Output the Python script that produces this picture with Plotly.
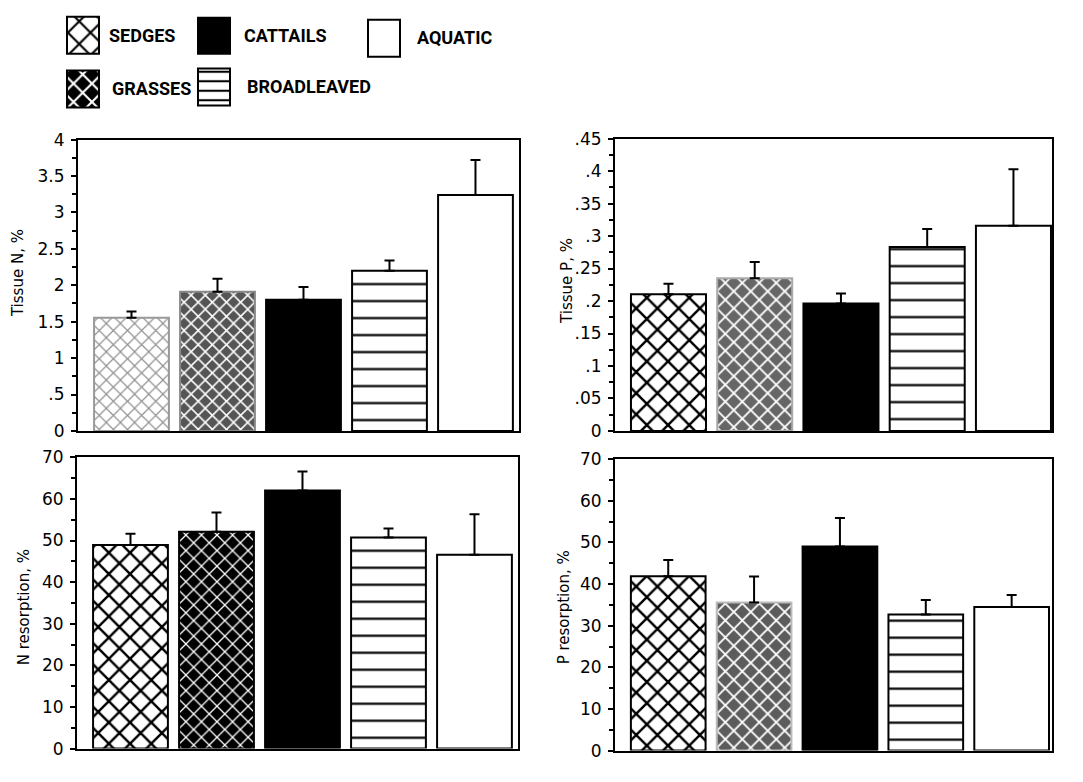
import plotly.graph_objects as go

# ---------------- data ----------------
CATEGORIES = ["SEDGES", "GRASSES", "CATTAILS", "BROADLEAVED", "AQUATIC"]

TISSUE_N = [1.555, 1.91, 1.80, 2.20, 3.24]
TISSUE_N_SE = [0.085, 0.18, 0.175, 0.14, 0.48]

TISSUE_P = [0.2105, 0.235, 0.196, 0.283, 0.316]
TISSUE_P_SE = [0.016, 0.025, 0.0155, 0.028, 0.087]

N_RESORPTION = [48.9, 52.1, 62.0, 50.7, 46.6]
N_RESORPTION_SE = [2.7, 4.6, 4.6, 2.2, 9.7]

P_RESORPTION = [41.9, 35.6, 49.0, 32.7, 34.5]
P_RESORPTION_SE = [3.9, 6.2, 6.9, 3.5, 2.9]

N_TICKVALS = [0, 0.5, 1, 1.5, 2, 2.5, 3, 3.5, 4]
N_TICKTEXT = ["0", ".5", "1", "1.5", "2", "2.5", "3", "3.5", "4"]
P_TICKVALS = [0, 0.05, 0.1, 0.15, 0.2, 0.25, 0.3, 0.35, 0.4, 0.45]
P_TICKTEXT = ["0", ".05", ".1", ".15", ".2", ".25", ".3", ".35", ".4", ".45"]
R_TICKVALS = [0, 10, 20, 30, 40, 50, 60, 70]
R_TICKTEXT = ["0", "10", "20", "30", "40", "50", "60", "70"]

TITLES = ["Tissue N, %", "Tissue P, %", "N resorption, %", "P resorption, %"]

# ---------------- layout helpers ----------------
W, H = 1083, 782
FONT = "DejaVu Sans, Liberation Sans, Arial"
LFONT = "Roboto, Liberation Sans, DejaVu Sans"


def fx(p):
    return p / W


def fy(p):
    return 1 - p / H


def pat(shape, bg, fg, size, sol):
    return dict(shape=shape, bgcolor=bg, fgcolor=fg, fgopacity=1, size=size,
                solidity=sol, fillmode="replace")


def bar_styles(grass_bg, grass_line, sedge_fg, sedge_line, sedge_size, grass_size,
               sedge_sol, grass_sol):
    """Marker style per category for one panel."""
    return [
        dict(color="white", line=dict(color=sedge_line, width=2),
             pattern=pat("x", "white", sedge_fg, sedge_size, sedge_sol)),
        dict(color=grass_bg, line=dict(color=grass_line, width=2),
             pattern=pat("x", grass_bg, "white", grass_size, grass_sol)),
        dict(color="black", line=dict(color="black", width=2)),
        dict(color="white", line=dict(color="black", width=2),
             pattern=pat("-", "white", "black", 17, 0.13)),
        dict(color="white", line=dict(color="black", width=2)),
    ]


panels = [
    dict(vals=TISSUE_N, se=TISSUE_N_SE, tv=N_TICKVALS, tt=N_TICKTEXT, rng=[0, 4],
         minor=0.25, dom=(78, 519, 133, 432), xr=[-0.622, 4.506],
         mk=bar_styles("#555555", "#888", "#909090", "#999", 10, 10, 0.22, 0.28),
         title_xy=(18, 270)),
    dict(vals=TISSUE_P, se=TISSUE_P_SE, tv=P_TICKVALS, tt=P_TICKTEXT, rng=[0, 0.45],
         minor=0.025, dom=(615, 1052, 132, 432), xr=[-0.62, 4.447],
         mk=bar_styles("#666666", "#aaa", "black", "black", 15, 12, 0.3, 0.28),
         title_xy=(567, 278)),
    dict(vals=N_RESORPTION, se=N_RESORPTION_SE, tv=R_TICKVALS, tt=R_TICKTEXT, rng=[0, 70],
         minor=5, dom=(77, 518, 459, 758), xr=[-0.622, 4.506],
         mk=bar_styles("black", "black", "black", "black", 15, 11, 0.3, 0.22),
         title_xy=(24, 613)),
    dict(vals=P_RESORPTION, se=P_RESORPTION_SE, tv=R_TICKVALS, tt=R_TICKTEXT, rng=[0, 70],
         minor=5, dom=(615, 1052, 461, 760), xr=[-0.62, 4.47],
         mk=bar_styles("#5c5c5c", "#bbb", "black", "black", 15, 12, 0.3, 0.28),
         title_xy=(564, 613)),
]

fig = go.Figure()
layout = dict(
    width=W, height=H, margin=dict(l=0, r=0, t=0, b=0),
    paper_bgcolor="white", plot_bgcolor="white", showlegend=False,
    barmode="overlay", font=dict(family=FONT, color="black"),
)
annotations = []

for i, p in enumerate(panels, start=1):
    xa = "x" if i == 1 else f"x{i}"
    ya = "y" if i == 1 else f"y{i}"
    for j, cat in enumerate(CATEGORIES):
        fig.add_trace(go.Bar(
            x=[cat], y=[p["vals"][j]], xaxis=xa, yaxis=ya, width=0.87,
            marker=p["mk"][j], opacity=1, name=cat,
            error_y=dict(type="data", symmetric=False, array=[p["se"][j]],
                         arrayminus=[0], color="black", thickness=2, width=5),
        ))
    x0, x1, y0, y1 = p["dom"]
    key = "" if i == 1 else str(i)
    layout["xaxis" + key] = dict(
        domain=[fx(x0), fx(x1)], anchor=ya, range=p["xr"], showticklabels=False,
        ticks="", showline=True, linecolor="black", linewidth=2, mirror=True,
        showgrid=False, zeroline=False, type="category",
        categoryorder="array", categoryarray=CATEGORIES,
    )
    layout["yaxis" + key] = dict(
        domain=[fy(y1), fy(y0)], anchor=xa, range=p["rng"], tickvals=p["tv"],
        ticktext=p["tt"], ticks="outside", ticklen=5, tickwidth=2, tickcolor="black",
        minor=dict(dtick=p["minor"], tick0=0, ticks="outside", ticklen=4,
                   tickwidth=1.5, tickcolor="black"),
        showline=True, linecolor="black", linewidth=2, mirror=True,
        showgrid=False, zeroline=False, tickfont=dict(size=17, family=FONT),
        ticklabelstandoff=3,
    )
    tx, ty = p["title_xy"]
    annotations.append(dict(
        x=fx(tx), y=fy(ty), xref="paper", yref="paper", text=TITLES[i - 1],
        textangle=-90, showarrow=False, xanchor="center", yanchor="middle",
        font=dict(size=15, family=FONT),
    ))

# ---------------- legend (swatches drawn as bars on a hidden axis) ----------------
LEG_X = [83, 83, 214, 214, 384]      # swatch centre (px) for each category
LEG_TOP = [7, 62, 8, 60, 10]         # swatch top (px)
LEG_H = [38, 38, 37, 38, 38]         # swatch height (px)
LEG_TEXT_X = [107, 110, 242, 245, 415]
LEG_TEXT_Y = [26, 81, 26, 79, 28]
LEG_STYLE = [
    dict(color="white", line=dict(color="black", width=2),
         pattern=pat("x", "white", "black", 16, 0.25)),
    dict(color="black", line=dict(color="black", width=2),
         pattern=pat("x", "black", "white", 13, 0.3)),
    dict(color="black", line=dict(color="black", width=2)),
    dict(color="white", line=dict(color="black", width=2),
         pattern=pat("-", "white", "black", 9.5, 0.22)),
    dict(color="white", line=dict(color="black", width=2)),
]

for j, cat in enumerate(CATEGORIES):
    fig.add_trace(go.Bar(
        x=[LEG_X[j]], y=[LEG_H[j]], base=[LEG_TOP[j]], width=32,
        xaxis="x5", yaxis="y5", marker=LEG_STYLE[j], hoverinfo="skip", name=cat,
    ))
layout["xaxis5"] = dict(domain=[0, 1], range=[0, W], visible=False, anchor="y5")
layout["yaxis5"] = dict(domain=[fy(110), 1], range=[110, 0], visible=False, anchor="x5")

for name, tx, ty in zip(CATEGORIES, LEG_TEXT_X, LEG_TEXT_Y):
    annotations.append(dict(
        x=fx(tx), y=fy(ty), xref="paper", yref="paper", text=name, showarrow=False,
        xanchor="left", yanchor="middle",
        font=dict(size=18, family=LFONT, weight="bold"),
    ))

layout["annotations"] = annotations
fig.update_layout(**layout)
fig.write_html("out.html")
